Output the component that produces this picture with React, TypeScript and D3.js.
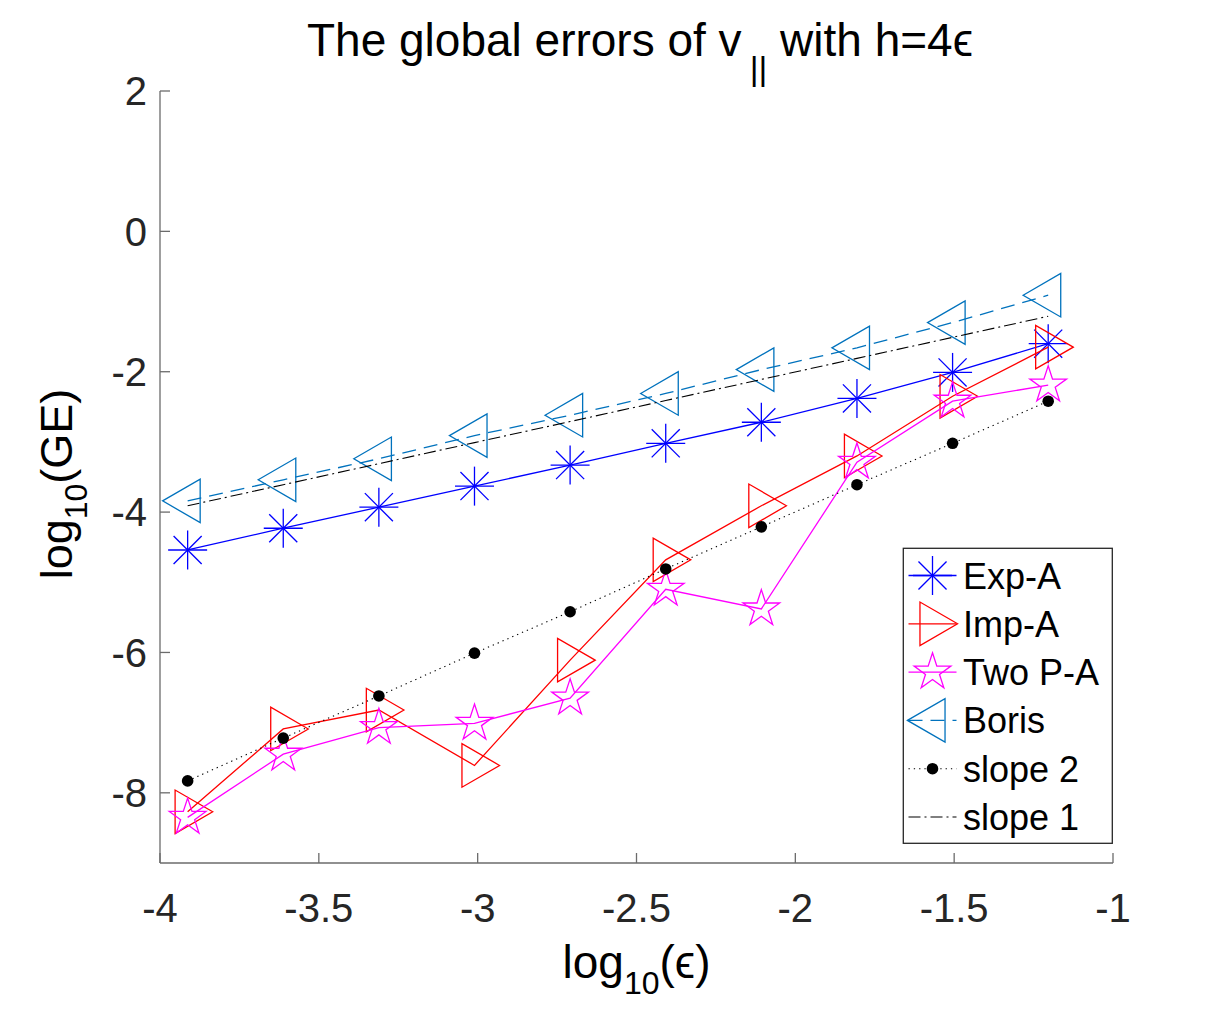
import React from "react";
import * as d3 from "d3";

// log10(epsilon) values (epsilon = 2^-13 ... 2^-4)
const logEps = [-3.913, -3.612, -3.311, -3.01, -2.709, -2.408, -2.107, -1.806, -1.505, -1.204];

const expA = [-4.54, -4.23, -3.93, -3.63, -3.33, -3.02, -2.72, -2.38, -2.01, -1.6];
const impA = [-8.27, -7.09, -6.82, -7.61, -6.11, -4.68, -3.91, -3.2, -2.35, -1.65];
const twoPA = [-8.35, -7.45, -7.07, -7.01, -6.65, -5.1, -5.38, -3.29, -2.42, -2.19];
const boris = [-3.84, -3.54, -3.24, -2.91, -2.62, -2.31, -1.97, -1.66, -1.3, -0.91];
const slope2 = [-7.83, -7.22, -6.62, -6.01, -5.42, -4.81, -4.21, -3.61, -3.02, -2.42];
const slope1 = [-3.91, -3.61, -3.31, -3.01, -2.71, -2.41, -2.11, -1.81, -1.51, -1.21];

const xTicks = [-4, -3.5, -3, -2.5, -2, -1.5, -1];
const yTicks = [-8, -6, -4, -2, 0, 2];

const seriesNames = ["Exp-A", "Imp-A", "Two P-A", "Boris", "slope 2", "slope 1"];

const FONT = "'Liberation Sans', Arial, Helvetica, sans-serif";

type MarkerKind = "asterisk" | "triRight" | "star" | "triLeft" | "dot" | "none";

function Marker({ kind, x, y, color }: { kind: MarkerKind; x: number; y: number; color: string }) {
  const sw = 1.3;
  if (kind === "asterisk") {
    const r = 19.5;
    const d = r * 0.72;
    return (
      <g stroke={color} strokeWidth={sw} fill="none">
        <line x1={x - r} y1={y} x2={x + r} y2={y} />
        <line x1={x} y1={y - r} x2={x} y2={y + r} />
        <line x1={x - d} y1={y - d} x2={x + d} y2={y + d} />
        <line x1={x - d} y1={y + d} x2={x + d} y2={y - d} />
      </g>
    );
  }
  if (kind === "triRight" || kind === "triLeft") {
    const w = 37.6;
    const h = 43.5;
    const s = kind === "triRight" ? 1 : -1;
    const pts = [
      [x + s * (w * 2) / 3, y],
      [x - s * w / 3, y - h / 2],
      [x - s * w / 3, y + h / 2],
    ];
    return (
      <polygon
        points={pts.map((p) => p.join(",")).join(" ")}
        stroke={color}
        strokeWidth={sw}
        fill="none"
        strokeLinejoin="miter"
      />
    );
  }
  if (kind === "star") {
    const R = 19.3;
    const r = R * 0.382;
    const pts: string[] = [];
    for (let i = 0; i < 10; i++) {
      const a = -Math.PI / 2 + (i * Math.PI) / 5;
      const rr = i % 2 === 0 ? R : r;
      pts.push(`${x + rr * Math.cos(a)},${y + rr * Math.sin(a)}`);
    }
    return <polygon points={pts.join(" ")} stroke={color} strokeWidth={sw} fill="none" />;
  }
  if (kind === "dot") {
    return <circle cx={x} cy={y} r={5.8} fill="#000" />;
  }
  return null;
}

export default function App() {
  const W = 1230;
  const H = 1009;
  const left = 160;
  const right = 1113;
  const top = 91;
  const bottom = 863;

  const x = d3.scaleLinear().domain([-4, -1]).range([left, right]);
  const y = d3.scaleLinear().domain([-9, 2]).range([bottom, top]);

  const series = [
    { name: seriesNames[0], data: expA, color: "#0000ff", dash: undefined, marker: "asterisk" as MarkerKind, width: 1.3 },
    { name: seriesNames[1], data: impA, color: "#ff0000", dash: undefined, marker: "triRight" as MarkerKind, width: 1.3 },
    { name: seriesNames[2], data: twoPA, color: "#ff00ff", dash: undefined, marker: "star" as MarkerKind, width: 1.3 },
    { name: seriesNames[3], data: boris, color: "#0072bd", dash: "14,8", marker: "triLeft" as MarkerKind, width: 1.3 },
    { name: seriesNames[4], data: slope2, color: "#000000", dash: "1.3,4", marker: "dot" as MarkerKind, width: 1.1 },
    { name: seriesNames[5], data: slope1, color: "#000000", dash: "12,4,2,4", marker: "none" as MarkerKind, width: 1.1 },
  ];

  const line = d3
    .line<number>()
    .x((_, i) => x(logEps[i]))
    .y((d) => y(d));

  const axisColor = "#6b6b6b";
  const tickLen = 10;

  const legX0 = 903.3;
  const legX1 = 1112.3;
  const legY0 = 548.3;
  const legY1 = 843.3;
  const rowY0 = 575.5;
  const rowStep = 48.3;

  return (
    <svg width={W} height={H} viewBox={`0 0 ${W} ${H}`} style={{ display: "block", position: "absolute", left: 0, top: 0 }}>
      <rect x={0} y={0} width={W} height={H} fill="#fff" />

      {/* axes */}
      <g stroke={axisColor} strokeWidth={1.3} fill="none">
        <line x1={left} y1={bottom} x2={right} y2={bottom} />
        <line x1={left} y1={bottom} x2={left} y2={top} />
        {xTicks.map((t) => (
          <line key={"xt" + t} x1={x(t)} y1={bottom} x2={x(t)} y2={bottom - tickLen} />
        ))}
        {yTicks.map((t) => (
          <line key={"yt" + t} x1={left} y1={y(t)} x2={left + tickLen} y2={y(t)} />
        ))}
      </g>
      <g fontFamily={FONT} fontSize={40} fill="#262626">
        {xTicks.map((t) => (
          <text key={"xl" + t} x={x(t)} y={922} textAnchor="middle">
            {String(t)}
          </text>
        ))}
        {yTicks.map((t) => (
          <text key={"yl" + t} x={147} y={y(t) + 14.3} textAnchor="end">
            {String(t)}
          </text>
        ))}
      </g>

      {/* series */}
      {series.map((s) => (
        <g key={s.name}>
          <path
            d={line(s.data) || ""}
            fill="none"
            stroke={s.color}
            strokeWidth={s.width}
            strokeDasharray={s.dash}
          />
          {s.data.map((v, i) => (
            <Marker key={i} kind={s.marker} x={x(logEps[i])} y={y(v)} color={s.color} />
          ))}
        </g>
      ))}

      {/* title */}
      <text x={640} y={56} textAnchor="middle" fontFamily={FONT} fontSize={46} fill="#000">
        <tspan>The global errors of v</tspan>
        <tspan fontSize={34} dx={8} dy={24}>||</tspan>
        <tspan dy={-24}> with h=4</tspan>
        <tspan>ϵ</tspan>
      </text>

      {/* x label */}
      <text x={636.5} y={978} textAnchor="middle" fontFamily={FONT} fontSize={46} fill="#000">
        <tspan>log</tspan>
        <tspan fontSize={32} dy={16}>10</tspan>
        <tspan dy={-16}>(ϵ)</tspan>
      </text>

      {/* y label */}
      <text
        transform="translate(72,484) rotate(-90)"
        x={0}
        y={0}
        textAnchor="middle"
        fontFamily={FONT}
        fontSize={45}
        fill="#000"
      >
        <tspan>log</tspan>
        <tspan fontSize={32} dy={15}>10</tspan>
        <tspan dy={-15}>(GE)</tspan>
      </text>

      {/* legend */}
      <rect x={legX0} y={legY0} width={legX1 - legX0} height={legY1 - legY0} fill="#fff" stroke="#262626" strokeWidth={1.3} />
      {series.map((s, i) => {
        const ry = rowY0 + i * rowStep;
        return (
          <g key={"leg" + s.name}>
            <line x1={908.5} y1={ry} x2={956.5} y2={ry} stroke={s.color} strokeWidth={s.width} strokeDasharray={s.dash} />
            <Marker kind={s.marker} x={932.5} y={ry} color={s.color} />
            <text x={963} y={ry + 13} fontFamily={FONT} fontSize={36} fill="#000">
              {s.name}
            </text>
          </g>
        );
      })}
    </svg>
  );
}
